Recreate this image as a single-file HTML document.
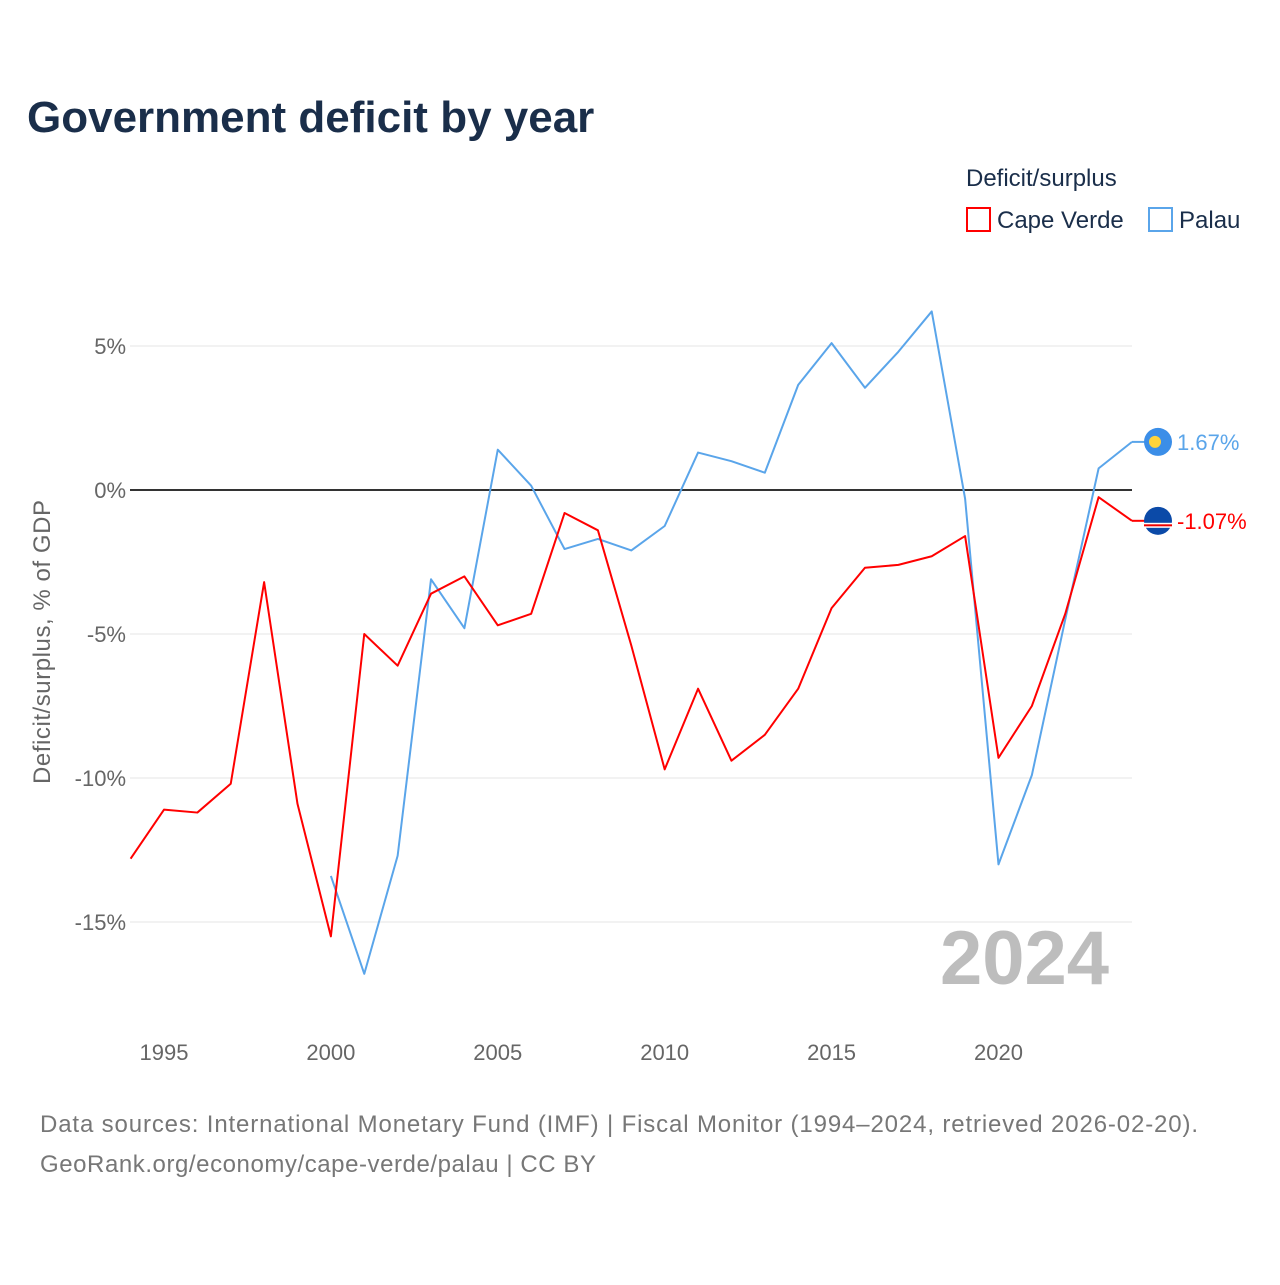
<!DOCTYPE html>
<html><head><meta charset="utf-8"><style>
body{margin:0;background:#fff;font-family:"Liberation Sans",sans-serif}
</style></head><body>
<svg width="1280" height="1280" xmlns="http://www.w3.org/2000/svg" font-family="Liberation Sans, sans-serif">
<text x="27" y="132" font-size="44" font-weight="bold" fill="#1a2e4a">Government deficit by year</text>
<text x="966" y="186" font-size="24" fill="#1a2e4a">Deficit/surplus</text>
<g><rect x="967" y="208" width="23" height="23" fill="none" stroke="#f00" stroke-width="2"/><text x="997" y="228" font-size="24" fill="#1a2e4a">Cape Verde</text></g>
<g><rect x="1149" y="208" width="23" height="23" fill="none" stroke="#5aa5ea" stroke-width="2"/><text x="1179" y="228" font-size="24" fill="#1a2e4a">Palau</text></g>
<g id="grid"></g>
<text x="940" y="984" font-size="76" font-weight="bold" fill="#bdbdbd">2024</text>
<g id="series"></g>
<text transform="translate(50,642) rotate(-90)" text-anchor="middle" font-size="24" fill="#666" textLength="284">Deficit/surplus, % of GDP</text>
<text x="40" y="1132" font-size="24" fill="#777" textLength="1158">Data sources: International Monetary Fund (IMF) | Fiscal Monitor (1994–2024, retrieved 2026-02-20).</text>
<text x="40" y="1172" font-size="24" fill="#777" textLength="556">GeoRank.org/economy/cape-verde/palau | CC BY</text>
</svg>
<script>
const years=[1994,1995,1996,1997,1998,1999,2000,2001,2002,2003,2004,2005,2006,2007,2008,2009,2010,2011,2012,2013,2014,2015,2016,2017,2018,2019,2020,2021,2022,2023,2024];
const capeVerde=[-12.8,-11.1,-11.2,-10.2,-3.2,-10.9,-15.5,-5.0,-6.1,-3.6,-3.0,-4.7,-4.3,-0.8,-1.4,-5.4,-9.7,-6.9,-9.4,-8.5,-6.9,-4.1,-2.7,-2.6,-2.3,-1.6,-9.3,-7.5,-4.3,-0.25,-1.07];
const palauYears=[2000,2001,2002,2003,2004,2005,2006,2007,2008,2009,2010,2011,2012,2013,2014,2015,2016,2017,2018,2019,2020,2021,2022,2023,2024];
const palau=[-13.4,-16.8,-12.7,-3.1,-4.8,1.4,0.15,-2.05,-1.7,-2.1,-1.25,1.3,1.0,0.6,3.65,5.1,3.55,4.8,6.2,-0.3,-13.0,-9.9,-4.5,0.75,1.67];
const yTicks=[5,0,-5,-10,-15];
const yTickLabels=["5%","0%","-5%","-10%","-15%"];
const xTicks=[1995,2000,2005,2010,2015,2020];
const NS="http://www.w3.org/2000/svg";
const x=v=>130.6+(v-1994)*(1132-130.6)/30;
const y=v=>490-v*28.8;
const grid=document.getElementById('grid'),ser=document.getElementById('series');
function mk(tag,attrs,parent){const e=document.createElementNS(NS,tag);for(const k in attrs)e.setAttribute(k,attrs[k]);parent.appendChild(e);return e;}
yTicks.forEach((t,i)=>{
 const l=mk('line',{x1:130,x2:1132,y1:y(t),y2:y(t),stroke:t===0?'#333':'#e6e6e6','stroke-width':t===0?2:1},grid);
 
 
 const tx=mk('text',{x:126,y:y(t)+8,'text-anchor':'end','font-size':22,fill:'#666'},grid);tx.textContent=yTickLabels[i];
 
 
});
xTicks.forEach(t=>{
 const tx=mk('text',{x:x(t),y:1060,'text-anchor':'middle','font-size':22,fill:'#666'},grid);tx.textContent=t;
 
 
});
function line(xs,vs,color,name){
 const p=mk('polyline',{points:xs.map((yr,i)=>x(yr)+','+y(vs[i])).join(' '),fill:'none',stroke:color,'stroke-width':2,'stroke-linejoin':'round'},ser);
 
 
}
line(palauYears,palau,'#5aa5ea','palau-line');
line(years,capeVerde,'#f00','cape-verde-line');
function end(v,color,name,flag){
 const yy=y(v);
 mk('line',{x1:1132,x2:1146,y1:yy,y2:yy,stroke:color,'stroke-width':2},ser);
 const g=mk('g',{},ser);
 
 
 if(flag==='palau'){mk('circle',{cx:1158,cy:yy,r:14,fill:'#3b8ee8'},g);mk('circle',{cx:1155,cy:yy,r:6,fill:'#ffd43b'},g);}
 else{mk('circle',{cx:1158,cy:yy,r:14,fill:'#0b4aa8'},g);mk('rect',{x:1144,y:yy+2,width:28,height:5,fill:'#fff'},g);mk('rect',{x:1144,y:yy+3.5,width:28,height:2,fill:'#e00'},g);}
 const t=mk('text',{x:1177,y:yy+8,'font-size':22,fill:color},ser);t.textContent=v.toFixed(2)+'%';
 
 
}
end(palau[palau.length-1],'#5aa5ea','palau','palau');
end(capeVerde[capeVerde.length-1],'#f00','cape-verde','cv');
</script>
</body></html>
